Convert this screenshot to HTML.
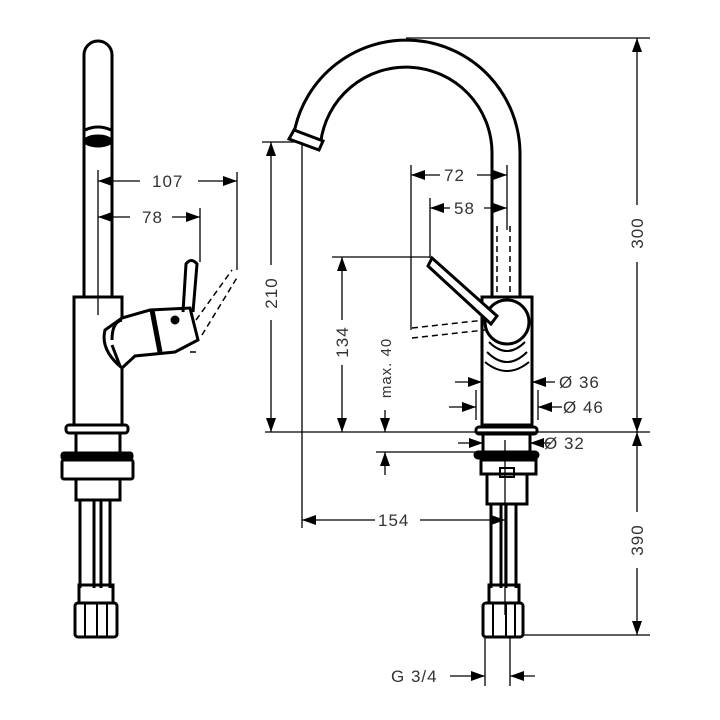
<!DOCTYPE html>
<html><head><meta charset="utf-8"><style>
html,body{margin:0;padding:0;background:#fff;}
svg{display:block;}
text{font-family:"Liberation Sans",sans-serif;font-size:17px;fill:#333;letter-spacing:1px;}
</style></head><body>
<svg width="720" height="720" viewBox="0 0 720 720" xmlns="http://www.w3.org/2000/svg">
<defs>
<marker id="a" markerWidth="14" markerHeight="10" refX="14" refY="5" orient="auto" markerUnits="userSpaceOnUse"><path d="M0,0 L14,5 L0,10 Z" fill="#000"/></marker>
</defs>
<g fill="none" stroke="#000" stroke-width="3">
<!-- LEFT VIEW -->
<path d="M84,297 V55 A14,14 0 0 1 112,55 V297"/>
<path d="M85,130 Q98,124 111,130"/>
<ellipse cx="98" cy="141" rx="13" ry="5" fill="#000"/>
<rect x="74" y="297" width="48" height="128"/>
<path d="M122,318 L150,310 L190,308 L198,340 L175,352 L135,356 L122,368 Q100,350 105,330 Z" fill="#fff"/>
<path d="M112,340 Q112,322 122,320 M120,366 L112,345"/>
<line x1="152" y1="310" x2="160" y2="352" stroke-width="5"/>
<circle cx="175" cy="320" r="3" fill="#000"/>
<path d="M183,312 L186,264 Q191,257 197,264 L193,312"/>
<rect x="66" y="425" width="62" height="8" rx="3"/>
<rect x="76" y="433" width="44" height="20"/>
<rect x="62" y="453" width="70" height="6" rx="2" fill="#000"/>
<rect x="62" y="460" width="71" height="19" rx="2"/>
<path d="M76,479 V500 H120 V479"/>
<path d="M80,500 V588 M94,500 V588 M101,500 V588 M110,500 V588"/>
<rect x="79" y="585" width="34" height="18"/>
<rect x="75" y="603" width="42" height="34" rx="3"/>
<path d="M85,603V637 M97,603V637 M107,603V637" stroke-width="2"/>
</g>
<g fill="none" stroke="#000" stroke-width="1.5" stroke-dasharray="6,4">
<path d="M196,320 L232,270 M202,335 L238,276 M190,352 L200,352"/>
</g>
<g stroke="#000" stroke-width="1.3" fill="none">
<line x1="98" y1="170" x2="98" y2="315"/>
<line x1="237" y1="172" x2="237" y2="270"/>
<line x1="200" y1="208" x2="200" y2="262"/>
<line x1="140" y1="181" x2="98" y2="181" marker-end="url(#a)"/>
<line x1="198" y1="181" x2="237" y2="181" marker-end="url(#a)"/>
<line x1="130" y1="217" x2="98" y2="217" marker-end="url(#a)"/>
<line x1="172" y1="217" x2="200" y2="217" marker-end="url(#a)"/>
</g>
<text x="152" y="187">107</text>
<text x="142" y="223">78</text>

<!-- RIGHT VIEW -->
<g fill="none" stroke="#000" stroke-width="3">
<path d="M294,133 A114,114 0 0 1 520,152 V297"/>
<path d="M320.6,143 A86,86 0 0 1 492,152 V297"/>
<path d="M294,130 L289,139 L319,150 L323,141 Z" fill="#fff"/>
<rect x="482" y="297" width="50" height="128" fill="#fff"/>
<path d="M489,342 Q507,360 525,342 M487,352 Q507,372 527,352 M485,362 Q507,380 529,362" stroke-width="2"/>
<circle cx="507" cy="322" r="22" fill="#fff"/>
<path d="M432,258 L497,316 L491,324 L428,266 Z" fill="#fff"/>
<rect x="476" y="427" width="61" height="7" rx="3"/>
<rect x="483" y="434" width="47" height="18"/>
<rect x="475" y="452" width="63" height="6" rx="3" fill="#000"/>
<rect x="481" y="460" width="55" height="14"/>
<rect x="487" y="474" width="40" height="30"/>
<path d="M491,504 V588 M501,504 V588 M506,504 V588 M516,504 V588"/>
<rect x="489" y="585" width="30" height="18"/>
<rect x="483" y="603" width="40" height="34" rx="3"/>
<path d="M493,603V637 M506,603V637 M515,603V637" stroke-width="2"/>
<rect x="500" y="468" width="14" height="9" stroke-width="2"/>
</g>
<g fill="none" stroke="#000" stroke-width="1.5" stroke-dasharray="6,4">
<path d="M497,226 V296 M510,226 V296"/>
<path d="M412,328 L485,320 M412,338 L485,330"/>
</g>
<g stroke="#000" stroke-width="1.3" fill="none">
<line x1="406" y1="38" x2="650" y2="38"/>
<line x1="262" y1="142" x2="300" y2="142"/>
<line x1="332" y1="257" x2="430" y2="257"/>
<line x1="265" y1="432" x2="650" y2="432"/>
<line x1="376" y1="452" x2="480" y2="452"/>
<line x1="523" y1="635" x2="650" y2="635"/>
<line x1="302" y1="142" x2="302" y2="528"/>
<line x1="411" y1="165" x2="411" y2="330"/>
<line x1="430" y1="198" x2="430" y2="258"/>
<line x1="507" y1="165" x2="507" y2="230"/>
<line x1="505" y1="440" x2="505" y2="615"/>
<line x1="485" y1="637" x2="485" y2="686"/>
<line x1="510" y1="637" x2="510" y2="686"/>
<line x1="637" y1="205" x2="637" y2="38" marker-end="url(#a)"/>
<line x1="637" y1="262" x2="637" y2="432" marker-end="url(#a)"/>
<line x1="637" y1="512" x2="637" y2="432" marker-end="url(#a)"/>
<line x1="637" y1="568" x2="637" y2="635" marker-end="url(#a)"/>
<line x1="271" y1="265" x2="271" y2="142" marker-end="url(#a)"/>
<line x1="271" y1="320" x2="271" y2="432" marker-end="url(#a)"/>
<line x1="342" y1="320" x2="342" y2="257" marker-end="url(#a)"/>
<line x1="342" y1="365" x2="342" y2="432" marker-end="url(#a)"/>
<line x1="385" y1="410" x2="385" y2="432" marker-end="url(#a)"/>
<line x1="385" y1="475" x2="385" y2="452" marker-end="url(#a)"/>
<line x1="375" y1="520" x2="302" y2="520" marker-end="url(#a)"/>
<line x1="420" y1="520" x2="505" y2="520" marker-end="url(#a)"/>
<line x1="440" y1="175" x2="411" y2="175" marker-end="url(#a)"/>
<line x1="477" y1="175" x2="507" y2="175" marker-end="url(#a)"/>
<line x1="450" y1="208" x2="430" y2="208" marker-end="url(#a)"/>
<line x1="484" y1="208" x2="507" y2="208" marker-end="url(#a)"/>
<line x1="455" y1="382" x2="482" y2="382" marker-end="url(#a)"/>
<line x1="555" y1="382" x2="532" y2="382" marker-end="url(#a)"/>
<line x1="476" y1="390" x2="476" y2="420"/>
<line x1="538" y1="390" x2="538" y2="420"/>
<line x1="449" y1="407" x2="476" y2="407" marker-end="url(#a)"/>
<line x1="562" y1="407" x2="538" y2="407" marker-end="url(#a)"/>
<line x1="458" y1="443" x2="483" y2="443" marker-end="url(#a)"/>
<line x1="550" y1="443" x2="530" y2="443" marker-end="url(#a)"/>
<line x1="450" y1="676" x2="485" y2="676" marker-end="url(#a)"/>
<line x1="535" y1="676" x2="510" y2="676" marker-end="url(#a)"/>
</g>
<text x="444" y="181">72</text>
<text x="454" y="214">58</text>
<text x="378" y="526">154</text>
<text x="559" y="388">Ø 36</text>
<text x="563" y="413">Ø 46</text>
<text x="544" y="449">Ø 32</text>
<text x="391" y="682">G 3/4</text>
<text transform="translate(643,233) rotate(-90)" text-anchor="middle">300</text>
<text transform="translate(643,540) rotate(-90)" text-anchor="middle">390</text>
<text transform="translate(277,293) rotate(-90)" text-anchor="middle">210</text>
<text transform="translate(348,342) rotate(-90)" text-anchor="middle">134</text>
<text transform="translate(391,368) rotate(-90)" text-anchor="middle" style="font-size:15px">max. 40</text>
</svg>
</body></html>
